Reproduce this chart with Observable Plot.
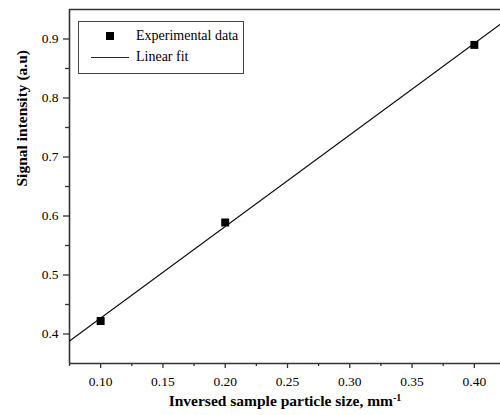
<!DOCTYPE html>
<html>
<head>
<meta charset="utf-8">
<script src="https://cdn.jsdelivr.net/npm/d3@7"></script>
<script src="https://cdn.jsdelivr.net/npm/@observablehq/plot@0.6"></script>
<style>
  html, body { margin: 0; padding: 0; background: #fff; }
  #wrap { position: relative; width: 500px; height: 415px; overflow: hidden; }
  #wrap svg, #wrap svg text, #wrap svg tspan { font-family: "Liberation Serif", "Times New Roman", serif !important; }
  #legend {
    position: absolute; left: 78px; top: 21px; width: 166px; height: 53px;
    border: 1px solid #444; box-sizing: border-box; background: #fff;
    font-family: "Liberation Serif", "Times New Roman", serif; font-size: 14px; color: #000;
  }
  .lg-row { position: absolute; left: 0; height: 16px; display: flex; align-items: center; }
  .lg-key { width: 57px; display: flex; justify-content: center; align-items: center; }
  .lg-sq { width: 8px; height: 8px; background: #000; margin-left: 4px; }
  .lg-line { width: 38px; height: 0; border-top: 1.3px solid #222; margin-left: 4px; }
</style>
</head>
<body>
<div id="wrap"></div>
<script>
// Experimental data
const particleSize = [0.10, 0.20, 0.40];
const signal = [0.422, 0.589, 0.890];
// Linear fit endpoints
const fitX = [0.075, 0.421];
const fitY = [0.388, 0.925];
// Axis ticks
const xMajor = [0.10, 0.15, 0.20, 0.25, 0.30, 0.35, 0.40];
const xMinor = [0.075, 0.125, 0.175, 0.225, 0.275, 0.325, 0.375];
const yMajor = [0.4, 0.5, 0.6, 0.7, 0.8, 0.9];
const yMinor = [0.45, 0.55, 0.65, 0.75, 0.85];
const xDomain = [0.075, 0.421];
const yDomain = [0.35, 0.95];

const points = particleSize.map((x, i) => ({x, y: signal[i]}));
const fit = fitX.map((x, i) => ({x, y: fitY[i]}));

const font = "Liberation Serif";
const axisColor = "#333";

const chart = Plot.plot({
  width: 500,
  height: 415,
  marginTop: 9,
  marginLeft: 69,
  marginRight: 0,
  marginBottom: 52,
  style: {fontFamily: font, fontSize: "13.5px", color: "#000", background: "#fff"},
  x: {domain: xDomain},
  y: {domain: yDomain},
  marks: [
    Plot.axisX({ticks: xMajor, tickSize: 5, tickFormat: d3.format(".2f"), tickPadding: 8, label: null, stroke: axisColor, strokeWidth: 1.3, fontSize: 13.5, fontFamily: font, fill: "#000"}),
    Plot.axisX({ticks: xMinor, tickSize: 3, text: null, label: null, stroke: axisColor, strokeWidth: 1.3}),
    Plot.axisY({ticks: yMajor, tickSize: 6, tickFormat: d3.format(".1f"), tickPadding: 5, label: null, stroke: axisColor, strokeWidth: 1.3, fontSize: 13.5, fontFamily: font, fill: "#000"}),
    Plot.axisY({ticks: yMinor, tickSize: 4, text: null, label: null, stroke: axisColor, strokeWidth: 1.3}),
    Plot.ruleY([yDomain[0]], {stroke: axisColor, strokeWidth: 1.6}),
    Plot.ruleY([yDomain[1]], {stroke: axisColor, strokeWidth: 1.6}),
    Plot.ruleX([xDomain[0]], {stroke: axisColor, strokeWidth: 1.6}),
    Plot.line(fit, {x: "x", y: "y", stroke: "#111", strokeWidth: 1.2}),
    Plot.dot(points, {x: "x", y: "y", symbol: "square", r: 4.5, fill: "#000", stroke: "none"}),
    Plot.text(["Inversed sample particle size, mm"], {frameAnchor: "bottom", dy: 42, fontWeight: "bold", fontSize: 15.5, fontFamily: font, fill: "#000", className: "xlabel"}),
    Plot.text(["Signal intensity (a.u)"], {frameAnchor: "left", dx: -47, rotate: -90, fontWeight: "bold", fontSize: 15.5, fontFamily: font, fill: "#000"})
  ]
});

document.getElementById("wrap").appendChild(chart);

// superscript -1 on the x-axis title
d3.select(chart).selectAll("g.xlabel text").each(function() {
  d3.select(this).append("tspan").attr("baseline-shift", "super").attr("font-size", 10).text("-1");
});

// Legend overlay
const legend = document.createElement("div");
legend.id = "legend";
legend.innerHTML = `
  <div class="lg-row" style="top:6px"><div class="lg-key"><div class="lg-sq"></div></div><span>Experimental data</span></div>
  <div class="lg-row" style="top:27px"><div class="lg-key"><div class="lg-line"></div></div><span>Linear fit</span></div>`;
document.getElementById("wrap").appendChild(legend);
</script>
</body>
</html>
